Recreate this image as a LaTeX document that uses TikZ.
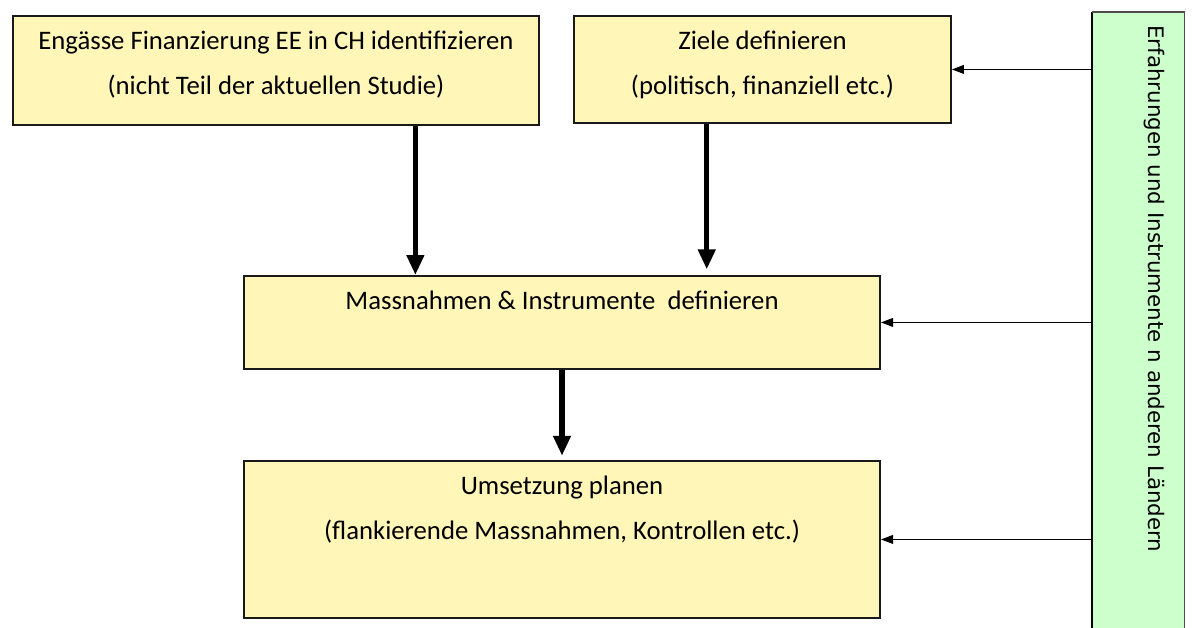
\documentclass[tikz,border=0pt]{standalone}
\usepackage{fontspec}
\setmainfont{Carlito}
\newfontfamily\sidefont{DejaVu Sans}
\usetikzlibrary{arrows.meta,calc}

\definecolor{boxyellow}{RGB}{255,246,184}
\definecolor{sidegreen}{RGB}{204,255,204}

\tikzset{
  stepbox/.style={draw=black!90, line width=1.3pt, fill=boxyellow, inner sep=0pt,
    align=center, text height=0.85cm, anchor=north west,
    font=\fontsize{19}{32}\selectfont},
  twoline/.style={text height=1.975cm},
  flow/.style={-{Triangle[length=0.5cm,width=0.42cm]}, line width=3.8pt},
  feed/.style={-{Triangle[length=0.3cm,width=0.22cm]}, line width=0.8pt},
}

\begin{document}
\begin{tikzpicture}[x=0.025cm, y=-0.025cm]
\useasboundingbox (0,0) rectangle (1193,627);

% steps
\node[stepbox, twoline, minimum width=13.15cm, text depth=0.75cm] (eng) at (12,15)
  {Engässe Finanzierung EE in CH identifizieren\\(nicht Teil der aktuellen Studie)};
\node[stepbox, twoline, minimum width=9.425cm, text depth=0.7cm] (ziel) at (573,15)
  {Ziele definieren\\(politisch, finanziell etc.)};
\node[stepbox, minimum width=15.9cm, text depth=1.475cm] (mass) at (243,275)
  {Massnahmen \& Instrumente\ \ definieren};
\node[stepbox, twoline, minimum width=15.9cm, text depth=1.95cm] (ums) at (243,460)
  {Umsetzung planen\\(flankierende Massnahmen, Kontrollen etc.)};

% side column
\node[fill=sidegreen, inner sep=0pt, minimum width=2.3cm, minimum height=15.6cm,
  anchor=north west] (side) at (1092,12) {};
\draw[line width=1.2pt] (side.south west) -- (side.north west);
\draw[black!70, line width=0.8pt] (side.north west) -- (side.north east) -- (side.south east);
\node[rotate=-90, anchor=base west, inner sep=0pt,
  font=\sidefont\fontsize{15.2}{18}\selectfont] (sidetext) at (1148,25)
  {Erfahrungen und Instrumente n anderen Ländern};

% connectors
\coordinate (engout) at ($(eng.south west)!0.764!(eng.south east)$);
\coordinate (zielout) at ($(ziel.south west)!0.353!(ziel.south east)$);
\draw[flow] (engout) -- (engout |- mass.north);
\draw[flow, shorten >=4pt] (zielout) -- (zielout |- mass.north);
\draw[flow, shorten >=3pt] (mass.south) -- (ums.north);

\draw[feed] (ziel.east -| side.west) -- (ziel.east);
\draw[feed] (mass.east -| side.west) -- (mass.east);
\draw[feed] (ums.east -| side.west) -- (ums.east);
\end{tikzpicture}
\end{document}
